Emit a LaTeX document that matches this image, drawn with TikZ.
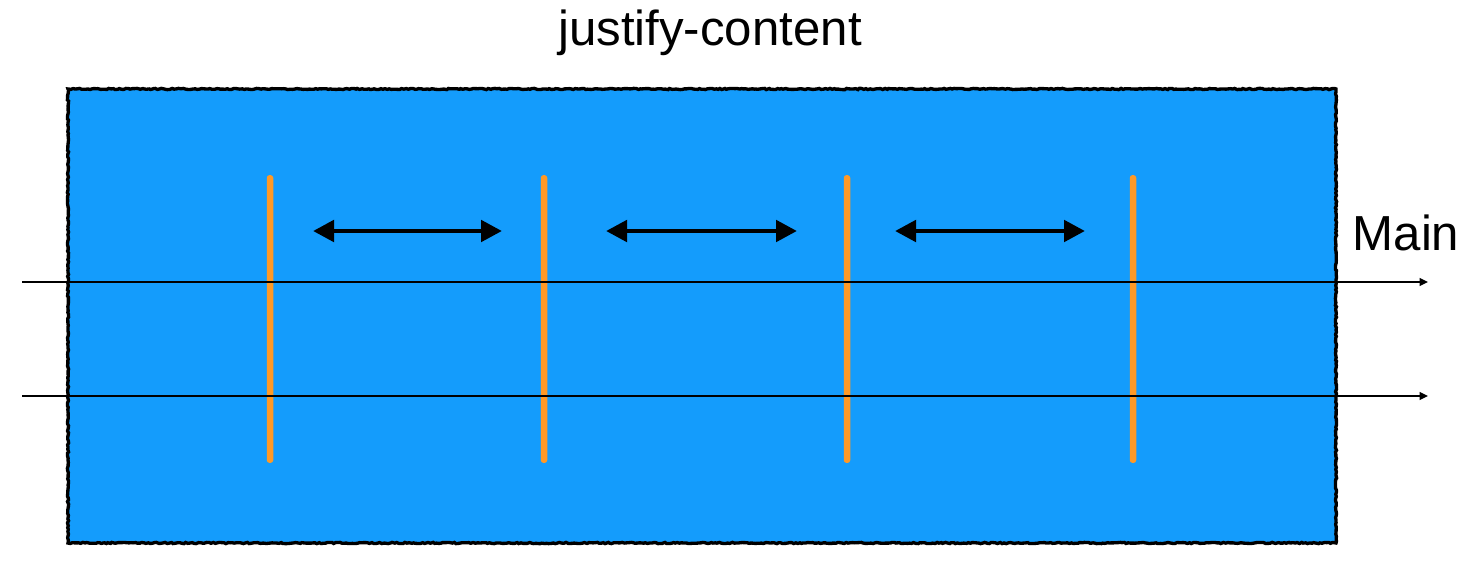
\documentclass[tikz,border=0pt]{standalone}
\usepackage{fontspec}
\setmainfont{Liberation Sans}
\usetikzlibrary{arrows.meta,decorations.pathmorphing}
\definecolor{flexblue}{RGB}{20,156,252}
\definecolor{itemorange}{RGB}{255,153,38}
\tikzset{
  flexbox/.style={fill=flexblue,draw=black,line width=1.9pt,
    decorate,decoration={random steps,segment length=1.2pt,amplitude=0.35pt}},
  itembar/.style={rectangle,fill=itemorange,inner sep=0pt,rounded corners=1.6pt,
    minimum width=0.13cm,minimum height=5.76cm},
  gaparrow/.style={line width=2.8pt,{Triangle[length=0.42cm,width=0.42cm]}-{Triangle[length=0.42cm,width=0.42cm]}},
  axisline/.style={line width=0.8pt,-{Triangle[length=0.17cm,width=0.16cm]}},
  bigfont/.style={font=\fontsize{28}{32}\selectfont},
}
% one flex item bar at x
\newcommand{\jbar}[2]{\node[itembar] (#1) at (#2,319) {};}
% spacing arrow between two x values
\newcommand{\jgap}[3]{%
  \coordinate (#1l) at (#2,231); \coordinate (#1r) at (#3,231);
  \draw[gaparrow] (#1l) -- (#1r);}
\begin{document}
\begin{tikzpicture}[x=0.02cm,y=-0.02cm]
        \useasboundingbox (0,0) rectangle (1480,585);
        \draw[flexbox] (68,89) rectangle (1336,543);
        \node[bigfont] (title) at (710,33) {justify-content};
        \node[bigfont] (mainlbl) at (1406,233) {Main};
        \jbar{b1}{270}\jbar{b2}{544}\jbar{b3}{847}\jbar{b4}{1133}
        \jgap{g1}{313}{502}\jgap{g2}{606}{797}\jgap{g3}{895}{1085}
        \coordinate (ax1s) at (22,282); \coordinate (ax1e) at (1428,282);
        \coordinate (ax2s) at (22,396); \coordinate (ax2e) at (1428,396);
        \draw[axisline] (ax1s) -- (ax1e);
        \draw[axisline] (ax2s) -- (ax2e);
      \end{tikzpicture}
\end{document}
